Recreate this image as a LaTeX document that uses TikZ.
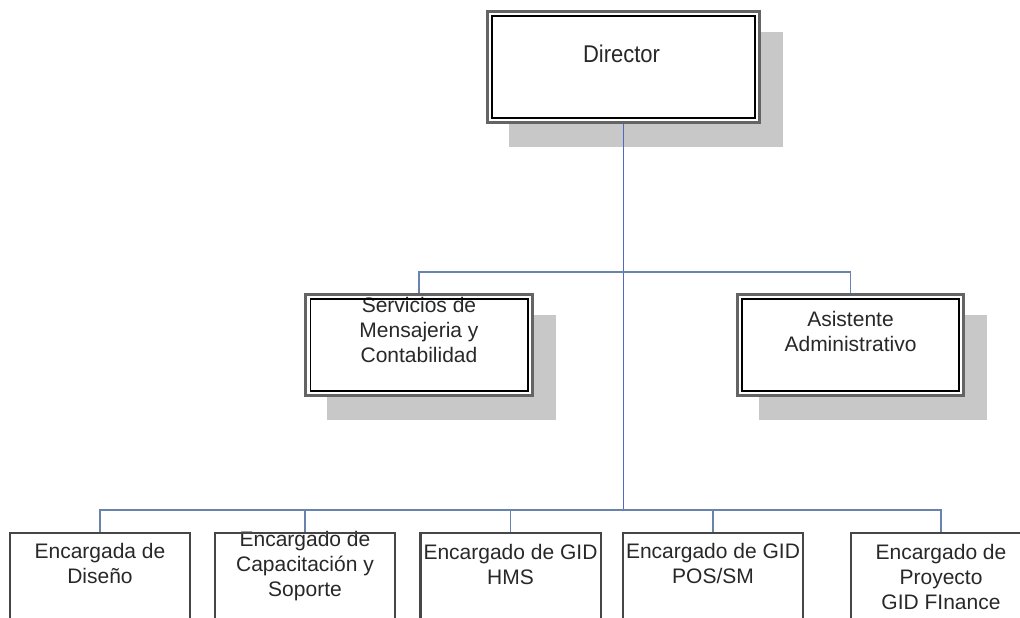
\documentclass[tikz,border=0pt]{standalone}
\usepackage{fontspec}
\usepackage{graphicx}
\setmainfont{Liberation Sans}
\usetikzlibrary{backgrounds}
\definecolor{trunkc}{RGB}{80,104,190}
\definecolor{branchc}{RGB}{104,132,172}
\definecolor{shadowc}{RGB}{200,200,200}
\definecolor{outerc}{RGB}{100,100,100}
\definecolor{txtc}{RGB}{40,40,40}
\definecolor{boxc}{RGB}{70,70,70}
\tikzset{
  x=1pt, y=-1pt,
  box/.style={rectangle, fill=white, draw=none, inner sep=0pt},
  bigbox/.style={box, minimum width=272pt, minimum height=111pt},
  midbox/.style={box, minimum width=226pt, minimum height=101pt},
  lowbox/.style={box, minimum width=180pt, minimum height=120pt},
  label/.style={inner sep=0pt, anchor=north, align=center, text=txtc,
    font=\fontsize{21}{25}\selectfont},
  outerline/.style={draw=outerc, line width=3pt},
  innerline/.style={draw=black, line width=1.6pt},
  lowline/.style={draw=boxc, line width=2.4pt},
  shadowfill/.style={fill=shadowc, draw=none},
  trunk/.style={draw=trunkc, line width=1.7pt},
  branch/.style={draw=branchc, line width=1.5pt},
}
\newcommand{\dblframe}[1]{%
  \draw[outerline] (#1.north west) rectangle (#1.south east);
  \draw[innerline] ([shift={(4.5,4.5)}]#1.north west) rectangle ([shift={(-4.5,-4.5)}]#1.south east);}
\newcommand{\boxshadow}[1]{%
  \fill[shadowfill] ([shift={(21.5,21)}]#1.north west) rectangle ([shift={(23.5,24.5)}]#1.south east);}
\begin{document}
\begin{tikzpicture}
\useasboundingbox (0,0) rectangle (1020,618);

% boxes (white fills)
\node[bigbox] (dir) at (623.5,67) {};
\node[midbox] (serv) at (419,345) {};
\node[midbox] (asis) at (850.5,345) {};
\node[lowbox] (b1) at (100,593) {};
\node[lowbox] (b2) at (305,593) {};
\node[lowbox] (b3) at (510.5,593) {};
\node[lowbox] (b4) at (713,593) {};
\node[lowbox] (b5) at (941,593) {};

% page and shadows behind
\begin{scope}[on background layer]
  \fill[white] (0,0) rectangle (1020,618);
  \boxshadow{dir}
  \boxshadow{serv}
  \boxshadow{asis}
\end{scope}

% connectors
\coordinate (busA) at (dir.south |- 0,272);
\coordinate (busB) at (dir.south |- 0,510);
\draw[trunk] (dir.south) -- (busB);
\draw[branch] (serv.north) |- (busA) -| (asis.north);
\draw[branch] (b1.north) |- (busB) -| (b5.north);
\draw[branch] (b2.north) -- (b2.north |- busB);
\draw[branch] (b3.north) -- (b3.north |- busB);
\draw[branch] (b4.north) -- (b4.north |- busB);

% texts
\node[label, font=\fontsize{22}{25}\selectfont] (tdir) at (621.5,43) {\scalebox{1}[1.1]{\strut Director}};
\node[label] (tserv) at (419,295.2) {\strut Servicios de\\Mensajeria y\\Contabilidad};
\node[label] (tasis) at (850.5,309.2) {\strut Asistente\\Administrativo};
\node[label] (tb1) at (100,540.5) {\strut Encargada de\\Diseño};
\node[label] (tb2) at (305,528.5) {\strut Encargado de\\Capacitación y\\Soporte};
\node[label] (tb3) at (510.5,541.5) {\strut Encargado de GID\\HMS};
\node[label] (tb4) at (713,540.5) {\strut Encargado de GID\\POS/SM};
\node[label] (tb5) at (941,541.5) {\strut Encargado de\\Proyecto\\GID FInance};

% frames on top
\dblframe{dir}
\dblframe{serv}
\dblframe{asis}
\foreach \b in {b1,b2,b3,b4,b5} {
  \draw[lowline] (\b.north west) rectangle (\b.south east);
}
\end{tikzpicture}
\end{document}
